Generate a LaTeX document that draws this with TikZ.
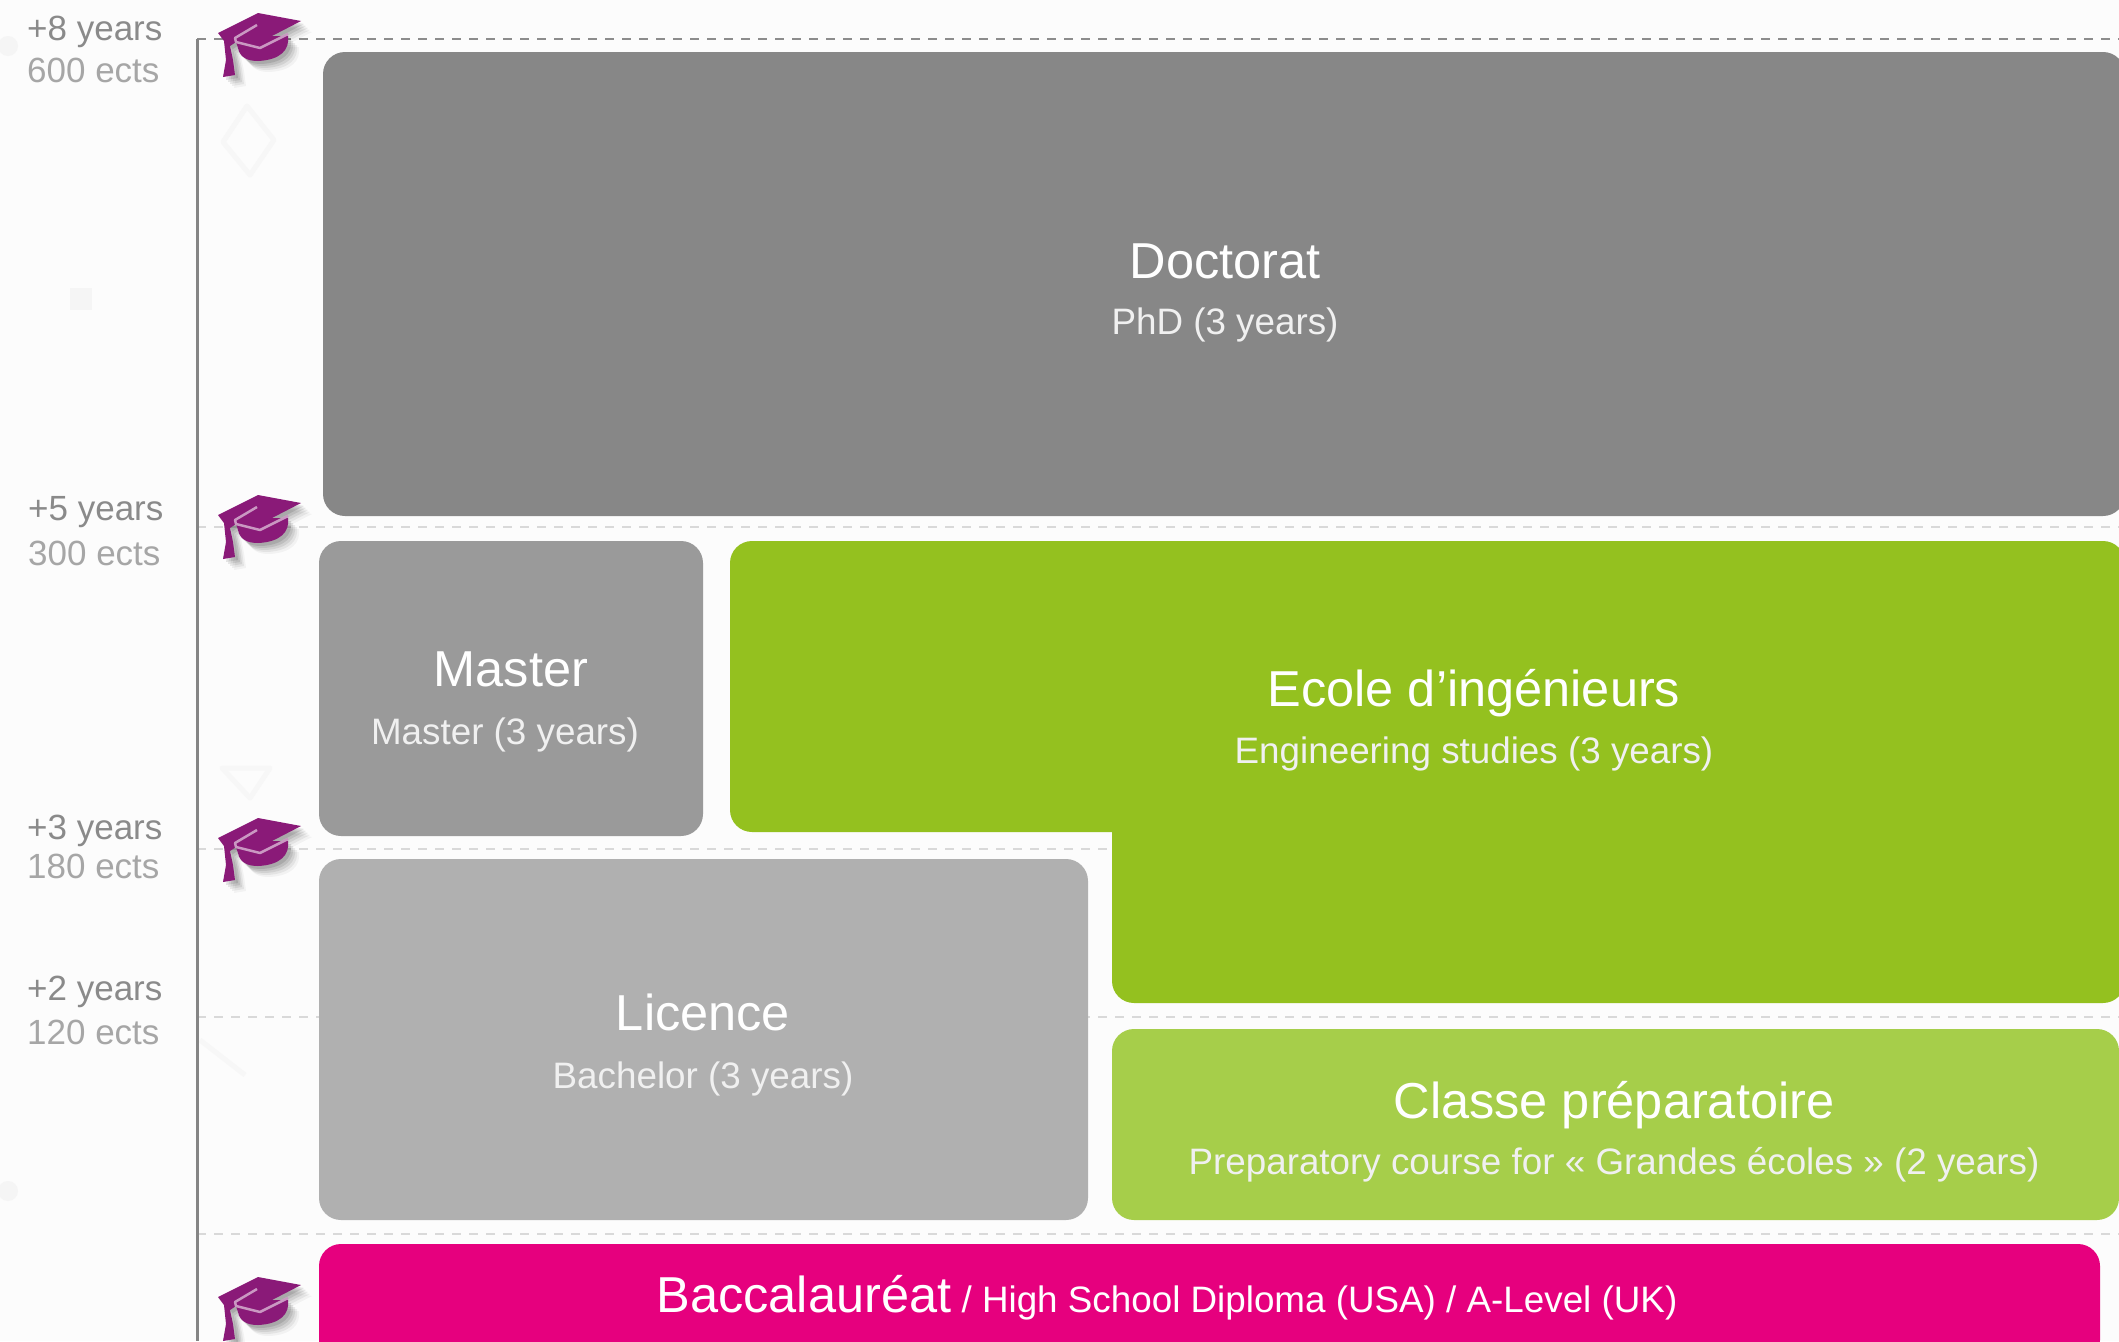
\documentclass[tikz,border=0pt]{standalone}
\usepackage{fontspec}
\setmainfont{Liberation Sans}
\definecolor{bgc}{HTML}{FCFCFC}
\definecolor{docc}{HTML}{878787}
\definecolor{masc}{HTML}{9A9A9A}
\definecolor{licc}{HTML}{B0B0B0}
\definecolor{engc}{HTML}{94C11F}
\definecolor{prepc}{HTML}{A6CE4A}
\definecolor{bacc}{HTML}{E6007E}
\definecolor{capc}{HTML}{8A1A78}
\definecolor{tickc}{HTML}{D9D9D9}
\definecolor{labc}{HTML}{8A8A8A}
\definecolor{labd}{HTML}{A6A6A6}
\definecolor{subw}{HTML}{F0F0F0}
\tikzset{
  level/.style={line width=2.2pt,color=tickc,dash pattern=on 9pt off 8pt},
  blockshape/.style={rounded corners=22pt},
  titletext/.style={anchor=base,inner sep=0pt,text=white,font=\fontsize{50.5}{50}\selectfont},
  subtext/.style={anchor=base,inner sep=0pt,text=subw,font=\fontsize{36.8}{37}\selectfont},
  yeartext/.style={anchor=base west,inner sep=0pt,text=labc,font=\fontsize{35}{35}\selectfont},
  ectstext/.style={anchor=base west,inner sep=0pt,text=labd,font=\fontsize{35}{35}\selectfont},
  faint/.style={draw=black!3,line width=5pt,line join=round},
  faintdot/.style={fill=black!4},
}
\newcommand{\capshape}{%
  (218,33) -- (258,13) -- (301,21) -- (272,36) -- (288,36) .. controls (290,50) and (280,60) .. (258,61)
  .. controls (248,61) and (240,58) .. (238,48) -- (236,42) -- (230,46) -- (233,60) -- (235,75) -- (223,77)
  -- (226,60) -- (224,41) -- cycle}
\newcommand{\gradcap}[1]{%
  \begin{scope}[yshift=-#1pt]
    \foreach \d/\o in {3/0.10,5/0.09,7/0.08,9/0.06,11/0.04}{
      \fill[black,opacity=\o,xshift=\d pt,yshift=-\d pt] \capshape;
    }
    \fill[capc] \capshape;
    \draw[line width=2.5pt,color=capc!45!white,line join=round] (257,25) -- (235,38) -- (236,42) -- (260,48) -- (288,34);
  \end{scope}}
\begin{document}
\begin{tikzpicture}[x=1pt,y=-1pt]
\useasboundingbox (0,0) rectangle (2119,1341);
\clip (0,0) rectangle (2119,1341);
\fill[bgc] (0,0) rectangle (2119,1341);
% faint backdrop
\draw[faint] (247,106) -- (274,140) -- (250,175) -- (223,142) -- cycle;
\fill[faintdot] (70,288) rectangle (92,310);
\fill[faintdot] (8,46) circle (10);
\fill[faintdot] (8,1191) circle (10);
\draw[faint] (222,768) -- (270,768) -- (250,798) -- cycle;
\draw[faint] (200,1040) -- (245,1075);
% levels
\draw[level,color=black!45] (197,39) -- (2119,39);
\draw[level] (197,527) -- (2119,527);
\draw[level] (197,849) -- (1112,849);
\draw[level] (197,1017) -- (2119,1017);
\draw[level] (197,1234) -- (2119,1234);
\draw[line width=3pt,color=black!48] (197,39) -- (197,1341);
% blocks
\fill[docc,blockshape] (323,52) rectangle (2125,516);
\fill[masc,blockshape] (319,541) rectangle (703,836);
\fill[licc,blockshape] (319,859) rectangle (1088,1220);
\fill[prepc,blockshape] (1112,1029) rectangle (2119,1220);
\fill[bacc,blockshape] (319,1244) rectangle (2100,1362);
\fill[engc,blockshape] (1112,900) -- (1112,1003) -- (2125,1003) -- (2125,541) -- (730,541) -- (730,832) -- (900,832) [sharp corners] -- (1112,832) -- (1112,900) -- cycle;
% caps
\gradcap{0}
\gradcap{482}
\gradcap{805}
\gradcap{1264}
% axis labels
\node[yeartext] (y8) at (27,40) {+8 years};
\node[ectstext] (e8) at (27,82) {600 ects};
\node[yeartext] (y5) at (28,520) {+5 years};
\node[ectstext] (e5) at (28,565) {300 ects};
\node[yeartext] (y3) at (27,839) {+3 years};
\node[ectstext] (e3) at (27,878) {180 ects};
\node[yeartext] (y2) at (27,1000) {+2 years};
\node[ectstext] (e2) at (27,1044) {120 ects};
% block text
\node[titletext] (t1) at (1225,278) {Doctorat};
\node[subtext] (s1) at (1225,334) {PhD (3 years)};
\node[titletext] (t2) at (511,686) {Master};
\node[subtext] (s2) at (505,744) {Master (3 years)};
\node[titletext] (t3) at (1474,706) {Ecole d’ingénieurs};
\node[subtext] (s3) at (1474,763) {Engineering studies (3 years)};
\node[titletext] (t4) at (703,1030) {Licence};
\node[subtext] (s4) at (703,1088) {Bachelor (3 years)};
\node[titletext] (t5) at (1614,1118) {Classe préparatoire};
\node[subtext] (s5) at (1614,1174) {Preparatory course for « Grandes écoles » (2 years)};
\node[anchor=base,inner sep=0pt,text=white] (t6) at (1167,1312) {{\fontsize{50.5}{50}\selectfont Baccalauréat}{\fontsize{36.8}{37}\selectfont\ / High School Diploma (USA) / A-Level (UK)}};
\end{tikzpicture}
\end{document}
